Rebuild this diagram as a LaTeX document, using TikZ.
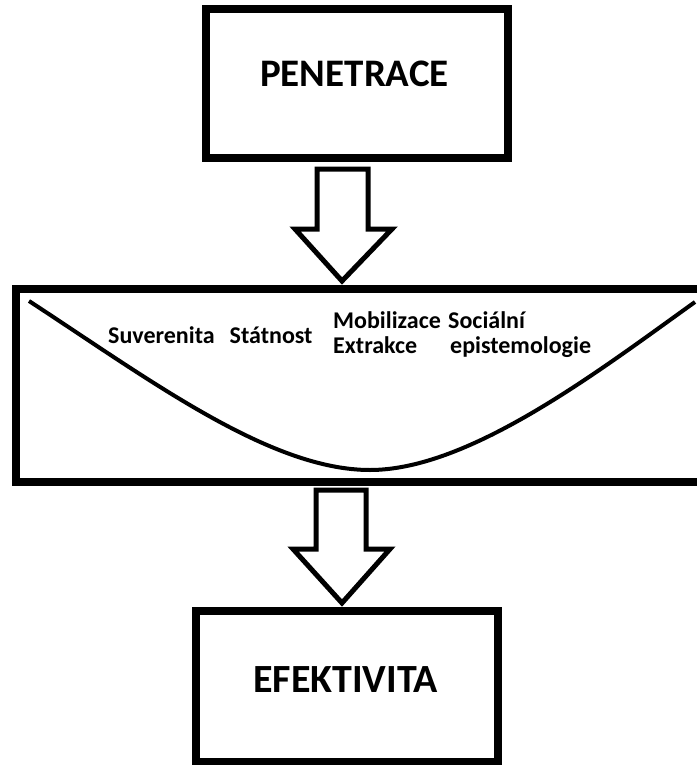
\documentclass[tikz,border=0pt]{standalone}
\usepackage{fontspec}
\setmainfont{Carlito}
\begin{document}
\begin{tikzpicture}[x=1pt,y=-1pt,
  box/.style={draw, line width=7.5pt, inner sep=0pt, outer sep=0pt},
  lbl/.style={anchor=base west, inner sep=0pt, font=\bfseries\fontsize{24}{28}\selectfont},
  big/.style={anchor=base west, inner sep=0pt, font=\bfseries\fontsize{39}{46}\selectfont},
  blockarrow/.style={draw, line width=5pt, line join=miter, fill=white},
  curveline/.style={line width=4pt},
  midframe/.style={line width=7.5pt, line join=miter}]
\useasboundingbox (0,0) rectangle (697,765);
% top box
\node[box, minimum width=302pt, minimum height=149pt] (penbox) at (357,83.5) {};
\node[big] (pen) at (260,87) {PENETRACE};
% top block arrow
\coordinate (tip1) at (342,281);
\draw[blockarrow] (317,169) -- (368,169) -- (368,229) -- (392,229) -- (tip1) -- (295,229) -- (317,229) -- cycle;
% middle frame (open at the right edge)
\coordinate (m1) at (697,289);
\coordinate (m2) at (16,289);
\coordinate (m3) at (16,482);
\coordinate (m4) at (697,482);
\draw[midframe] (m1) -- (m2) -- (m3) -- (m4);
% curve
\draw[curveline] (29,301) .. controls (150,380) and (270,470) .. (370,470) .. controls (470,470) and (600,370) .. (695,302);
% labels in middle box
\node[lbl] (suv) at (108,343) {Suverenita\hspace{15pt}Státnost};
\node[lbl] (mob) at (333,328) {Mobilizace};
\node[lbl] (ext) at (333,353) {Extrakce};
\node[lbl] (soc) at (448,328) {Sociální};
\node[lbl] (epi) at (450,353) {epistemologie};
% bottom block arrow
\coordinate (tip2) at (342,603);
\draw[blockarrow] (316,490) -- (366,490) -- (366,549) -- (390,549) -- (tip2) -- (293,549) -- (316,549) -- cycle;
% bottom box
\node[box, minimum width=302pt, minimum height=151pt] (efbox) at (347,686.5) {};
\node[big, font=\bfseries\fontsize{40}{48}\selectfont] (ef) at (253,692) {EFEKTIVITA};
\end{tikzpicture}
\end{document}
